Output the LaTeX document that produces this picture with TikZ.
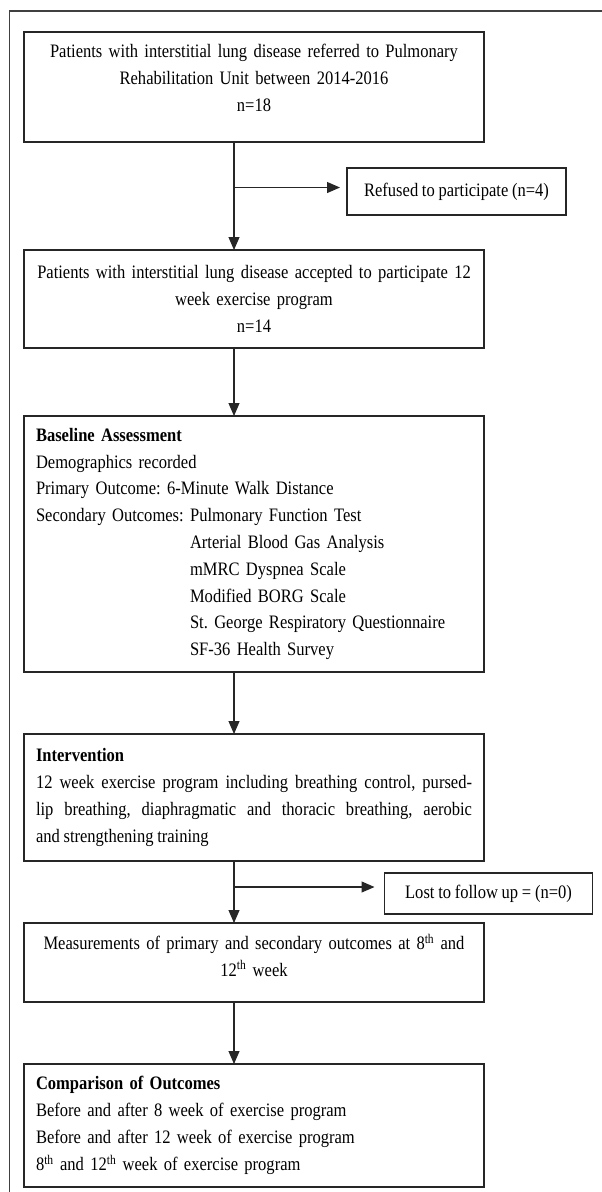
\documentclass[tikz,border=0pt]{standalone}
\usepackage{fontspec}
\setmainfont{Liberation Serif}[FakeStretch=0.87, WordSpace=0.9]
\usetikzlibrary{positioning, calc, arrows.meta}
\frenchspacing
\tikzset{
    box/.style = {draw=black!85, line width=1.1pt, inner xsep=12pt, inner ysep=4pt,
        outer sep=0pt, text width=436pt, font=\fontsize{19}{26.8}\selectfont},
    mainbox/.style = {box, align=center, inner xsep=4pt, text width=452pt},
    listbox/.style = {box, align=left},
    sidebox/.style = {draw=black!85, line width=1.1pt, inner sep=0pt, outer sep=0pt,
        align=center, font=\fontsize{19}{22}\selectfont},
}
\newcommand{\secindent}{\hphantom{Secondary Outcomes:\ }}

\begin{document}
\begin{tikzpicture}[x=1pt, y=-1pt, ->, >={Triangle[length=13pt,width=11pt]}, line width=1.1pt, draw=black!85]
            \useasboundingbox (0,0) rectangle (602,1192);
            % outer frame
            \draw[-, black!75, line width=1.4pt] (602,11) -| (9.5,1192);
            \node (referred) [mainbox, minimum height=110pt] at (254,87)
                {Patients with interstitial lung disease referred to Pulmonary\\
                Rehabilitation Unit between 2014-2016\\ n=18\\[-8pt]\mbox{}};
            \coordinate (spine) at ([xshift=-20pt]referred.south);
            \node (accepted) [mainbox, minimum height=98pt, below=108pt of referred]
                {Patients with interstitial lung disease accepted to participate 12\\
                week exercise program\\ n=14};
            \node (baseline) [listbox, minimum height=256pt, below=68pt of accepted]
                {\textbf{Baseline Assessment}\\
                Demographics recorded\\
                Primary Outcome: 6-Minute Walk Distance\\
                Secondary Outcomes: Pulmonary Function Test\\
                \secindent Arterial Blood Gas Analysis\\
                \secindent mMRC Dyspnea Scale\\
                \secindent Modified BORG Scale\\
                \secindent St. George Respiratory Questionnaire\\
                \secindent SF-36 Health Survey};
            \node (intervention) [box, align=justify, minimum height=127pt, below=62pt of baseline]
                {\textbf{Intervention}\\
                12 week exercise program including breathing control, pursed-\linebreak
                lip breathing, diaphragmatic and thoracic breathing, aerobic\linebreak
                and strengthening training};
            \node (measures) [mainbox, minimum height=79pt, below=62pt of intervention]
                {Measurements of primary and secondary outcomes at 8\textsuperscript{th} and\\
                12\textsuperscript{th} week\\[-12pt]\mbox{}};
            \node (comparison) [listbox, minimum height=123pt, below=62pt of measures]
                {\textbf{Comparison of Outcomes}\\
                Before and after 8 week of exercise program\\
                Before and after 12 week of exercise program\\
                8\textsuperscript{th} and 12\textsuperscript{th} week of exercise program};
            % side boxes
            \node (refused) [sidebox, minimum width=219pt, minimum height=47pt] at (456.5,191.5)
                {Refused to participate (n=4)};
            \node (lost) [sidebox, minimum width=208pt, minimum height=41pt] at (488.5,893.5)
                {Lost to follow up = (n=0)};
            \coordinate (cut1) at ([yshift=4pt]refused.west);
            \coordinate (cut2) at ([yshift=6.5pt]lost.west);
            % connectors
            \draw (referred.south -| spine) -- (accepted.north -| spine);
            \draw[shorten >=7pt] (cut1 -| spine) -- (cut1);
            \draw (accepted.south -| spine) -- (baseline.north -| spine);
            \draw (baseline.south -| spine) -- (intervention.north -| spine);
            \draw (intervention.south -| spine) -- (measures.north -| spine);
            \draw[shorten >=10pt] (cut2 -| spine) -- (cut2);
            \draw (measures.south -| spine) -- (comparison.north -| spine);
\end{tikzpicture}
\end{document}
